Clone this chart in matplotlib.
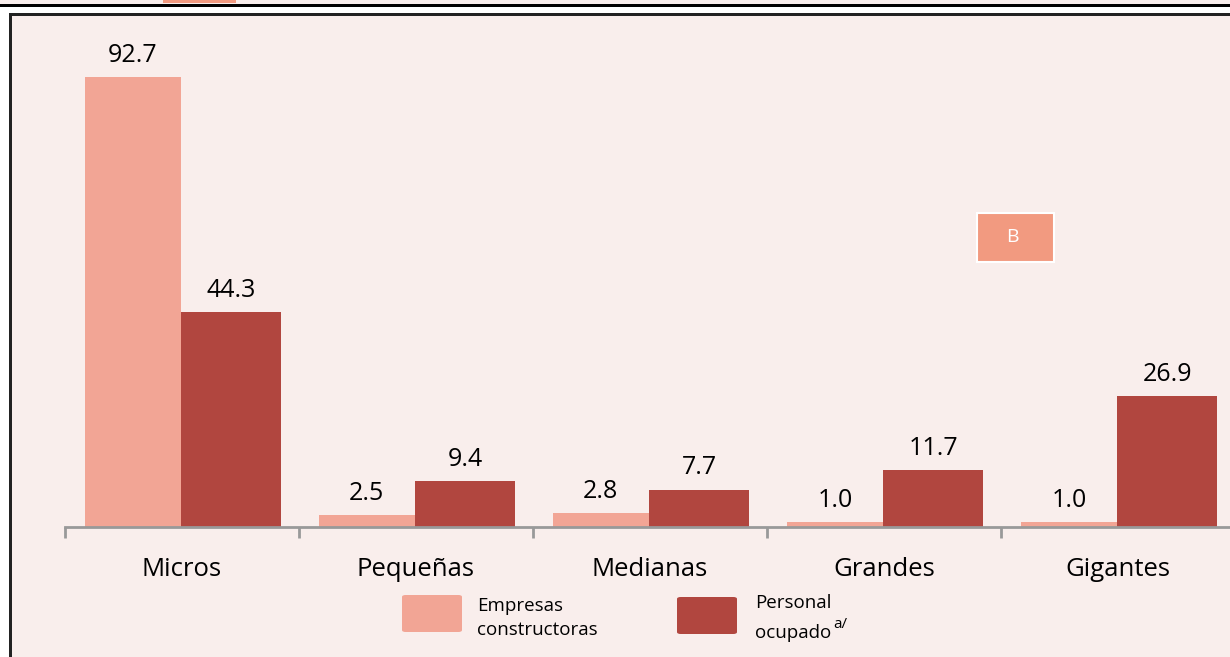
import matplotlib.pyplot as plt
from matplotlib.patches import Rectangle, FancyBboxPatch

categorias = ["Micros", "Pequeñas", "Medianas", "Grandes", "Gigantes"]
empresas = [92.7, 2.5, 2.8, 1.0, 1.0]
personal = [44.3, 9.4, 7.7, 11.7, 26.9]
etiquetas_empresas = ["92.7", "2.5", "2.8", "1.0", "1.0"]
etiquetas_personal = ["44.3", "9.4", "7.7", "11.7", "26.9"]

claro = "#F2A595"
oscuro = "#B1463F"
fondo = "#F9EEEC"

plt.rcParams["font.family"] = ["Open Sans", "DejaVu Sans"]

W, H = 1230, 657
fig = plt.figure(figsize=(W / 100, H / 100), dpi=100)
fig.patch.set_facecolor("white")


def fx(px):
    return px / W


def fy(py):
    return 1 - py / H


def rect(x0, y_top, w, h, color, z=-10, **kw):
    # rectangulo en pixeles de la figura (origen arriba a la izquierda)
    fig.patches.append(Rectangle((fx(x0), fy(y_top + h)), w / W, h / H,
                                 transform=fig.transFigure, facecolor=color,
                                 zorder=z, **kw))


# marco superior y panel
rect(0, 0, W, 4, fondo, edgecolor="none")
rect(163, 0, 73, 3, "#F29A80", edgecolor="none")
rect(0, 4, W, 3, "black", edgecolor="none")
rect(10, 13, W, H, fondo, edgecolor="none")
rect(10, 13, W, 3, "#222222", edgecolor="none")
rect(9, 13, 3, H, "#222222", edgecolor="none")

base = 527
escala = 450 / 92.7
ax = fig.add_axes([fx(65), fy(base), 1170 / W, 485 / H])
ax.set_facecolor("none")
ax.set_xlim(0, 5)
ax.set_ylim(0, 485 / escala)

x = range(len(categorias))
ax.bar([i + 0.085 for i in x], empresas, width=0.41, align="edge", color=claro)
ax.bar([i + 0.495 for i in x], personal, width=0.43, align="edge", color=oscuro)

for i in x:
    ax.text(i + 0.29, empresas[i] + 1.9, etiquetas_empresas[i], ha="center", va="bottom",
            fontsize=18, color="black", weight="medium")
    ax.text(i + 0.71, personal[i] + 1.9, etiquetas_personal[i], ha="center", va="bottom",
            fontsize=18, color="black", weight="medium")

for s in ["top", "right", "left"]:
    ax.spines[s].set_visible(False)
ax.spines["bottom"].set_color("#999999")
ax.spines["bottom"].set_linewidth(2)
ax.set_yticks([])
ax.set_xticks(range(6))
ax.set_xticklabels([])
ax.tick_params(axis="x", length=8, width=2, color="#999999", direction="out")
for i, c in enumerate(categorias):
    ax.text(i + 0.5, -42 / escala, c, ha="center", va="center", fontsize=18.5,
            color="black", weight="medium")

# recuadro B
rect(977, 213, 77, 49, "#F29A80", z=1, edgecolor="white", linewidth=1.5)
fig.text(fx(1012), fy(237), "B", ha="center", va="center", fontsize=14,
         color="white", weight="medium")

# leyenda
fig.patches.append(FancyBboxPatch((fx(402), fy(632)), fx(60), 37 / H,
                                  boxstyle="round,pad=0,rounding_size=0.003",
                                  transform=fig.transFigure, facecolor=claro, edgecolor="none"))
fig.patches.append(FancyBboxPatch((fx(677), fy(634)), fx(60), 37 / H,
                                  boxstyle="round,pad=0,rounding_size=0.003",
                                  transform=fig.transFigure, facecolor=oscuro, edgecolor="none"))
fig.text(fx(477), fy(606), "Empresas", ha="left", va="center", fontsize=13.5, color="black")
fig.text(fx(477), fy(630), "constructoras", ha="left", va="center", fontsize=13.5, color="black")
fig.text(fx(755), fy(603), "Personal", ha="left", va="center", fontsize=13.5, color="black")
fig.text(fx(755), fy(633), "ocupado", ha="left", va="center", fontsize=13.5, color="black")
fig.text(fx(833), fy(625), "a/", ha="left", va="center", fontsize=11, color="black")

fig.savefig("out.png", dpi=100)
